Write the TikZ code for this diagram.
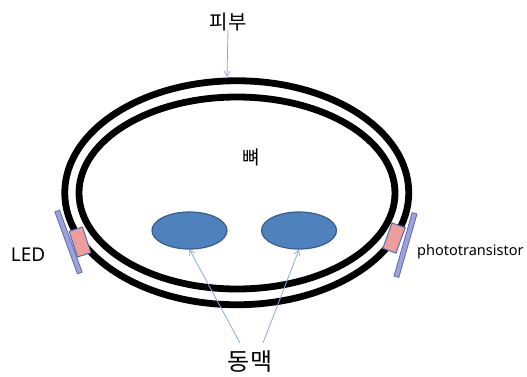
\documentclass[tikz,border=0pt]{standalone}
\usepackage{fontspec}
\newfontfamily\kr{Noto Sans CJK KR}
\newfontfamily\lat{Noto Sans}
\usetikzlibrary{shapes.geometric,arrows.meta}
\definecolor{artfill}{HTML}{4F81BD}
\definecolor{artline}{HTML}{385D8A}
\definecolor{arrowblue}{HTML}{8EA9DB}
\definecolor{barfill}{HTML}{A3A0D6}
\definecolor{padfill}{HTML}{EE9E9A}
\definecolor{edgeblue}{HTML}{4F6FB8}
\begin{document}
\begin{tikzpicture}[x=1pt,y=-1pt,
  ring/.style={draw=black,line width=6.8pt},
  artery/.style={ellipse,draw=artline,line width=1.2pt,fill=artfill,
    minimum width=75pt,minimum height=37pt,inner sep=0pt},
  pad/.style={rectangle,draw=edgeblue,line width=1pt,fill=padfill,
    minimum width=14pt,minimum height=27pt,inner sep=0pt},
  bar/.style={rectangle,draw=edgeblue,line width=0.8pt,fill=barfill,
    minimum width=5pt,minimum height=66pt,inner sep=0pt},
  pointer/.style={draw=arrowblue,line width=0.8pt,
    -{Straight Barb[length=5pt,width=6pt]}},
  txt/.style={inner sep=0pt}]
\useasboundingbox (0,0) rectangle (527,376);
\fill[white] (0,0) rectangle (527,376);

% skin: two concentric rings
\draw[ring] (236.75,192.75) ellipse [x radius=172, y radius=112];
\draw[ring] (237,193) ellipse [x radius=158, y radius=96];

% arteries
\node[artery] (a1) at (189.5,230.5) {};
\node[artery] (a2) at (299,230.5) {};

% LED on the left
\node[bar, rotate=20] (ledbar) at (68.5,242) {};
\node[pad, rotate=18] (ledpad) at (80,242) {};

% phototransistor on the right
\node[bar, rotate=-16] (ptbar) at (405.5,245) {};
\node[pad, rotate=-20] (ptpad) at (394,238) {};

% labels
\node[txt, font=\kr\fontsize{20}{20}\selectfont] (pb) at (228,22) {피부};
\node[txt, font=\kr\fontsize{19}{19}\selectfont] (bone) at (251,157) {뼈};
\node[txt, font=\kr\fontsize{24}{24}\selectfont] (dm) at (250,362) {동맥};
\node[txt, font=\lat\fontsize{19}{19}\selectfont] (led) at (28,255) {LED};
\node[txt, font=\lat\fontsize{14.5}{14.5}\selectfont, anchor=base west] (pt) at (417,255) {phototransistor};

% pointers
\coordinate (skin) at (227,77);
\coordinate (t1) at (240,343);
\coordinate (t2) at (263,343);
\draw[pointer] ([yshift=2pt]pb.south) -- (skin);
\draw[pointer] (t1) -- (a1.south);
\draw[pointer] (t2) -- (a2.south);
\end{tikzpicture}
\end{document}
